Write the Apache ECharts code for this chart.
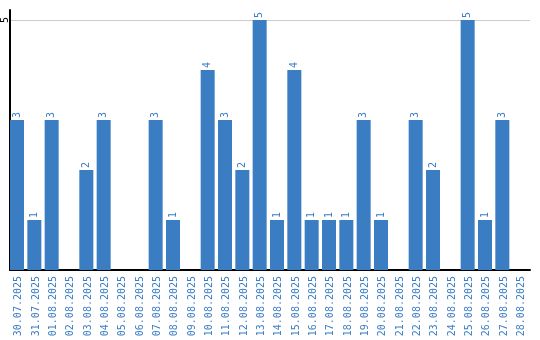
<!DOCTYPE html>
<html>
<head>
<meta charset="utf-8">
<script src="https://cdn.jsdelivr.net/npm/echarts@6/dist/echarts.min.js"></script>
<style>html,body{margin:0;padding:0;background:#fff}#c{width:540px;height:340px}</style>
</head>
<body>
<div id="c"></div>
<script>
const categories = ['30.07.2025','31.07.2025','01.08.2025','02.08.2025','03.08.2025','04.08.2025','05.08.2025','06.08.2025','07.08.2025','08.08.2025','09.08.2025','10.08.2025','11.08.2025','12.08.2025','13.08.2025','14.08.2025','15.08.2025','16.08.2025','17.08.2025','18.08.2025','19.08.2025','20.08.2025','21.08.2025','22.08.2025','23.08.2025','24.08.2025','25.08.2025','26.08.2025','27.08.2025','28.08.2025'];
const values = [3,1,3,0,2,3,0,0,3,1,0,4,3,2,5,1,4,1,1,1,3,1,0,3,2,0,5,1,3,0];
const yTickLabels = [5];

const blue = '#3b7dc3';
const chart = echarts.init(document.getElementById('c'), null, {renderer: 'canvas'});
chart.setOption({
  animation: false,
  grid: {left: 10, right: 10, top: 10, bottom: 70, containLabel: false, outerBoundsMode: 'none'},
  xAxis: {
    type: 'category',
    data: categories,
    axisLine: {show: true, lineStyle: {color: '#000', width: 2}},
    axisTick: {show: false},
    axisLabel: {
      rotate: 90, interval: 0, margin: 6,
      color: blue, fontFamily: 'DejaVu Sans Mono', fontSize: 10
    }
  },
  yAxis: {
    type: 'value', min: 0, max: 5.2, interval: 5,
    axisLine: {show: true, lineStyle: {color: '#000', width: 2}},
    axisTick: {show: false},
    splitLine: {show: true, showMaxLine: false, lineStyle: {color: '#cccccc', width: 1}},
    axisLabel: {
      rotate: 90, margin: 5, align: 'center', verticalAlign: 'middle',
      color: '#000', fontFamily: 'DejaVu Sans Mono', fontSize: 10,
      showMaxLabel: false,
      formatter: v => yTickLabels.includes(v) ? String(v) : ''
    }
  },
  series: [
    {
      type: 'bar', data: values.map(v => v === 0 ? null : v),
      barWidth: 14, barGap: '0%',
      itemStyle: {color: blue},
      label: {
        show: true, position: 'top', rotate: 90, align: 'left', verticalAlign: 'middle',
        distance: 2, color: blue, fontFamily: 'DejaVu Sans Mono', fontSize: 10
      }
    },
    {
      type: 'bar', data: values.map(() => null), barWidth: 520/30 - 14, barGap: '0%',
      silent: true
    }
  ]
});
</script>
</body>
</html>
